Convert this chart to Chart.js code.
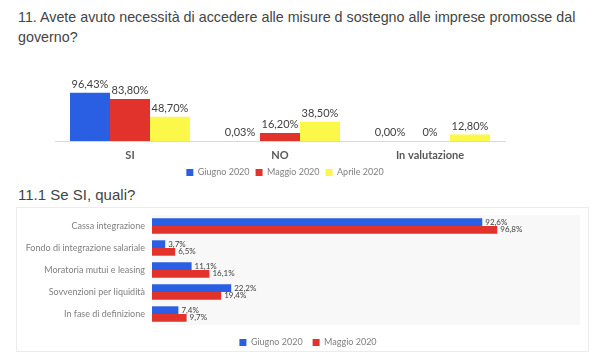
<!DOCTYPE html>
<html>
<head>
<meta charset="utf-8">
<script src="https://cdn.jsdelivr.net/npm/chart.js@4/dist/chart.umd.min.js"></script>
<style>
  html, body { margin:0; padding:0; background:#fff; }
  body { width:600px; height:357px; position:relative; overflow:hidden; font-family:"Liberation Sans", Arial, sans-serif; }
  .title { position:absolute; left:18px; color:#444; font-size:14.3px; line-height:20px; white-space:nowrap; }
  #t1 { top:7px; }
  #t2 { top:185px; font-size:15px; }
  #box { position:absolute; left:16px; top:207px; width:573px; height:145px; border:1px solid #ececec; box-sizing:border-box; }
  canvas { position:absolute; }
  #c1 { left:0; top:0; }
  #c2 { left:0; top:200px; }
</style>
</head>
<body>
<div class="title" id="t1">11. Avete avuto necessità di accedere alle misure d sostegno alle imprese promosse dal<br>governo?</div>
<div class="title" id="t2">11.1 Se SI, quali?</div>
<div id="box"></div>
<canvas id="c1" width="600" height="187"></canvas>
<canvas id="c2" width="600" height="157"></canvas>
<script>
// ---- Chart 1 data ----
const categories1 = ["SI", "NO", "In valutazione"];
const giugno1 = [96.43, 0.03, 0];
const maggio1 = [83.80, 16.20, 0];
const aprile1 = [48.70, 38.50, 12.80];
const giugno1Labels = ["96,43%", "0,03%", "0,00%"];
const maggio1Labels = ["83,80%", "16,20%", "0%"];
const aprile1Labels = ["48,70%", "38,50%", "12,80%"];

// ---- Chart 2 data ----
const categories2 = ["Cassa integrazione", "Fondo di integrazione salariale", "Moratoria mutui e leasing", "Sovvenzioni per liquidità", "In fase di definizione"];
const giugno2 = [92.6, 3.7, 11.1, 22.2, 7.4];
const maggio2 = [96.8, 6.5, 16.1, 19.4, 9.7];
const giugno2Labels = ["92,6%", "3,7%", "11,1%", "22,2%", "7,4%"];
const maggio2Labels = ["96,8%", "6,5%", "16,1%", "19,4%", "9,7%"];

const BLUE = "#2B5FE3", RED = "#E1332B", YELLOW = "#FBF84A";
const FONT = "Lato, 'Open Sans', sans-serif";

const valueLabels = {
  id: "valueLabels",
  afterDatasetsDraw(chart, args, opts) {
    const ctx = chart.ctx;
    ctx.save();
    ctx.fillStyle = opts.color || "#404040";
    ctx.font = opts.font;
    chart.data.datasets.forEach((ds, di) => {
      const meta = chart.getDatasetMeta(di);
      meta.data.forEach((el, i) => {
        const txt = ds.valueLabels[i];
        if (opts.horizontal) {
          ctx.textAlign = "left"; ctx.textBaseline = "middle";
          ctx.fillText(txt, el.x + 3, el.y);
        } else {
          ctx.textAlign = "center"; ctx.textBaseline = "bottom";
          ctx.fillText(txt, el.x, el.y - 3);
        }
      });
    });
    ctx.restore();
  }
};

const plotBg = {
  id: "plotBg",
  beforeDraw(chart, args, opts) {
    if (!opts.color) return;
    const a = chart.chartArea, ctx = chart.ctx;
    ctx.save();
    ctx.fillStyle = opts.color;
    ctx.fillRect(a.left, a.top, a.right - a.left, a.bottom - a.top);
    ctx.restore();
  }
};

const hiddenAxis = (w, h, extra) => Object.assign({
  display: true,
  grid: { display: false, drawTicks: false },
  border: { display: false },
  ticks: { display: false },
  afterFit(scale) { if (w !== null) scale.width = w; if (h !== null) scale.height = h; }
}, extra || {});

new Chart(document.getElementById("c1"), {
  type: "bar",
  data: {
    labels: categories1,
    datasets: [
      { label: "Giugno 2020", data: giugno1, backgroundColor: BLUE, valueLabels: giugno1Labels, xAxisID: "x", yAxisID: "y" },
      { label: "Maggio 2020", data: maggio1, backgroundColor: RED, valueLabels: maggio1Labels, xAxisID: "x", yAxisID: "y" },
      { label: "Aprile 2020", data: aprile1, backgroundColor: YELLOW, valueLabels: aprile1Labels, xAxisID: "x", yAxisID: "y" }
    ]
  },
  options: {
    responsive: false,
    animation: false,
    layout: { padding: { left: 55, right: 85, top: 91, bottom: 0 } },
    datasets: { bar: { categoryPercentage: 0.8, barPercentage: 1.0 } },
    scales: {
      x: {
        grid: { display: false, drawTicks: false },
        border: { display: true, color: "#d9d9d9" },
        ticks: { color: "#595959", font: { family: FONT, size: 11, weight: "bold" }, padding: 8 },
        afterFit(scale) { scale.height = 21; }
      },
      y: { display: false, min: 0, max: 100 },
      yPad: hiddenAxis(10, null, { type: "linear", position: "right", min: 0, max: 100 })
    },
    plugins: {
      legend: {
        position: "bottom",
        labels: { boxWidth: 7, boxHeight: 7, color: "#7f7f7f", font: { family: FONT, size: 9 }, padding: 6 }
      },
      tooltip: { enabled: false },
      valueLabels: { font: "11px " + FONT, color: "#404040" }
    }
  },
  plugins: [valueLabels]
});

new Chart(document.getElementById("c2"), {
  type: "bar",
  data: {
    labels: categories2,
    datasets: [
      { label: "Giugno 2020", data: giugno2, backgroundColor: BLUE, valueLabels: giugno2Labels, xAxisID: "x", yAxisID: "y" },
      { label: "Maggio 2020", data: maggio2, backgroundColor: RED, valueLabels: maggio2Labels, xAxisID: "x", yAxisID: "y" }
    ]
  },
  options: {
    indexAxis: "y",
    responsive: false,
    animation: false,
    layout: { padding: { left: 16, right: 0, top: 15, bottom: 0 } },
    datasets: { bar: { categoryPercentage: 0.7, barPercentage: 1.0 } },
    scales: {
      x: hiddenAxis(null, 3, { type: "linear", min: 0, max: 120 }),
      y: {
        type: "category",
        grid: { display: false, drawTicks: false },
        border: { display: false },
        ticks: { color: "#7f7f7f", font: { family: FONT, size: 9 }, padding: 7 },
        afterFit(scale) { scale.width = 136; }
      },
      yPad: hiddenAxis(20, null, { type: "linear", axis: "y", position: "right", min: 0, max: 1 })
    },
    plugins: {
      legend: {
        position: "bottom",
        labels: { boxWidth: 7, boxHeight: 7, color: "#7f7f7f", font: { family: FONT, size: 9 }, padding: 10 }
      },
      tooltip: { enabled: false },
      plotBg: { color: "#f8f8f8" },
      valueLabels: { font: "8px " + FONT, color: "#404040", horizontal: true }
    }
  },
  plugins: [plotBg, valueLabels]
});
</script>
</body>
</html>
